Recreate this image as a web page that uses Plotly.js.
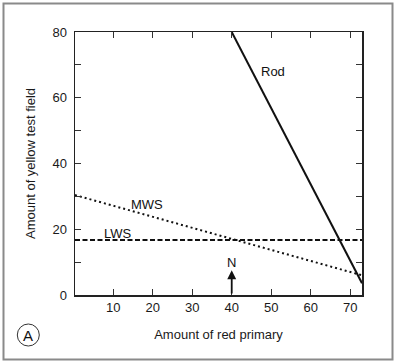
<!DOCTYPE html>
<html>
<head>
<meta charset="utf-8">
<script src="https://cdn.plot.ly/plotly-3.0.1.min.js"></script>
<style>
html,body{margin:0;padding:0;background:#fff;}
#chart{width:397px;height:363px;}
</style>
</head>
<body>
<div id="chart"></div>
<script>
// Data
const rodX = [40, 73];
const rodY = [80, 3.6];
const mwsX = [0.3, 73];
const mwsY = [30.4, 6];
const lwsX = [0.3, 73];
const lwsY = [16.7, 16.7];
const nX = [40, 40];
const nY = [0, 7.5];
const xTickVals = [10, 20, 30, 40, 50, 60, 70];
const xTickText = ['10', '20', '30', '40', '50', '60', '70'];
const yTickVals = [0, 10, 20, 30, 40, 50, 60, 70, 80];
const yTickText = ['0', '', '20', '', '40', '', '60', '', '80'];
const labelNames = ['Rod', 'MWS', 'LWS', 'N'];
const labelX = [50.4, 18.5, 11.3, 40];
const labelY = [68, 27.4, 18.8, 10];

const W = 397, H = 363;
const M = {l: 75, r: 35, t: 32, b: 68};
const pw = W - M.l - M.r, ph = H - M.t - M.b;
const px = v => (v - M.l) / pw;
const py = v => (H - M.b - v) / ph;

const font = {family: 'Liberation Sans, Arial, sans-serif', size: 13, color: '#1a1a1a'};
const labelFont = {family: 'Liberation Sans, Arial, sans-serif', size: 13, color: '#111111'};

const traces = [
  {x: rodX, y: rodY, mode: 'lines', line: {color: '#111', width: 2}, hoverinfo: 'skip'},
  {x: mwsX, y: mwsY, mode: 'lines', line: {color: '#111', width: 2, dash: '2px,3px'}, hoverinfo: 'skip'},
  {x: lwsX, y: lwsY, mode: 'lines', line: {color: '#111', width: 2, dash: '5px,2.5px'}, hoverinfo: 'skip'}
];

const annotations = labelNames.map((t, i) => ({
  x: labelX[i], y: labelY[i], xref: 'x', yref: 'y', text: t, showarrow: false,
  font: labelFont, xanchor: 'center', yanchor: 'middle'
}));
annotations.push({
  x: nX[1], y: nY[1], ax: nX[0], ay: nY[0], xref: 'x', yref: 'y', axref: 'x', ayref: 'y',
  text: '', showarrow: true, arrowhead: 2, arrowsize: 1, arrowwidth: 1.8, arrowcolor: '#111', standoff: 0
});
annotations.push({
  x: px(28.3), y: py(335), xref: 'paper', yref: 'paper', text: 'A', showarrow: false,
  font: {family: font.family, size: 15, color: '#111111'}, xanchor: 'center', yanchor: 'middle'
});

const shapes = [
  {type: 'rect', xref: 'paper', yref: 'paper', x0: px(3.5), x1: px(392.5), y0: py(359.5), y1: py(3.5),
   line: {color: '#8a8a8a', width: 2}, layer: 'below'},
  {type: 'circle', xref: 'paper', yref: 'paper', x0: px(17.3), x1: px(39.3), y0: py(346), y1: py(324),
   line: {color: '#333', width: 1}}
];

const layout = {
  width: W, height: H, margin: M,
  paper_bgcolor: '#fff', plot_bgcolor: '#fff',
  showlegend: false, font: font,
  xaxis: {
    range: [0.3, 73], tickvals: xTickVals, ticktext: xTickText,
    ticks: 'inside', ticklen: 6, tickwidth: 1, tickcolor: '#333',
    showline: true, linecolor: '#222', linewidth: 1.5, mirror: 'ticks',
    showgrid: false, zeroline: false, tickfont: font,
    title: {text: 'Amount of red primary', font: font, standoff: 16}
  },
  yaxis: {
    range: [0, 80], tickvals: yTickVals, ticktext: yTickText,
    ticks: 'inside', ticklen: 6, tickwidth: 1, tickcolor: '#333',
    showline: true, linecolor: '#222', linewidth: 1.5, mirror: 'ticks',
    showgrid: false, zeroline: false, tickfont: font, ticklabelstandoff: 4,
    title: {text: 'Amount of yellow test field', font: font, standoff: 14}
  },
  annotations: annotations,
  shapes: shapes
};

Plotly.newPlot('chart', traces, layout, {staticPlot: true, displayModeBar: false});
</script>
</body>
</html>
